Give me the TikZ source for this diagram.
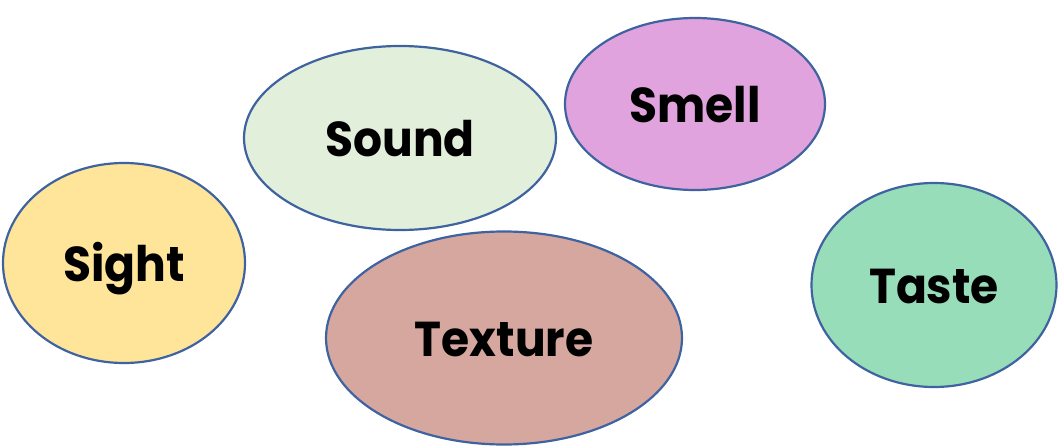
\documentclass[tikz,border=0pt]{standalone}
\usepackage{fontspec}
\setmainfont{Poppins}[FakeStretch=0.93]
\usetikzlibrary{shapes.geometric}
\definecolor{edge}{HTML}{3F62A0}
\definecolor{csight}{HTML}{FFE599}
\definecolor{csound}{HTML}{E2EFDA}
\definecolor{csmell}{HTML}{E1A3DD}
\definecolor{ctexture}{HTML}{D5A79F}
\definecolor{ctaste}{HTML}{97DDB9}
\tikzset{
  sense/.style={ellipse, draw=edge, line width=2.2pt, inner sep=0pt,
    text height=36pt, text depth=0pt,
    font=\fontsize{49}{49}\selectfont\bfseries}
}
\begin{document}
\begin{tikzpicture}[x=1pt,y=-1pt]
\useasboundingbox (0,0) rectangle (1061,447);
\node[sense, fill=csight, minimum width=242pt, minimum height=200pt] (sight) at (124,263) {Sight};
\node[sense, fill=csound, minimum width=312pt, minimum height=184pt] (sound) at (400,138) {Sound};
\node[sense, fill=csmell, minimum width=260pt, minimum height=172pt] (smell) at (695,104) {Smell};
\node[sense, fill=ctexture, minimum width=356pt, minimum height=213pt] (texture) at (504,338) {Texture};
\node[sense, fill=ctaste, minimum width=245pt, minimum height=204pt] (taste) at (934,285) {Taste};
\end{tikzpicture}
\end{document}
